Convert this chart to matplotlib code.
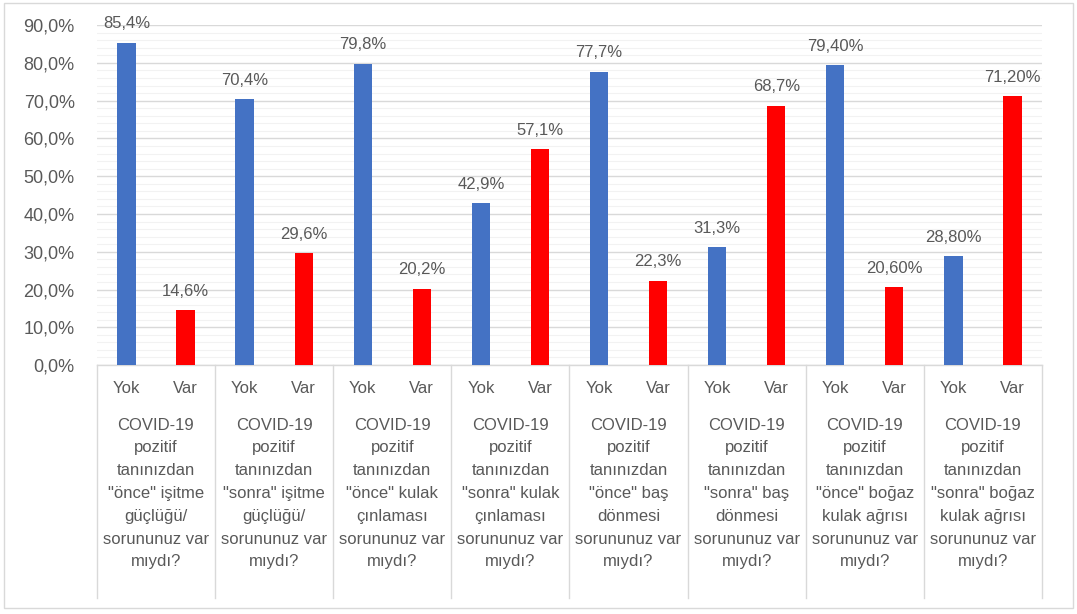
import matplotlib.pyplot as plt
from matplotlib.patches import Rectangle
from matplotlib.ticker import MultipleLocator, FuncFormatter

plt.rcParams['font.family'] = ['Liberation Sans', 'DejaVu Sans']

answers = ['Yok', 'Var']
yok = [85.4, 70.4, 79.8, 42.9, 77.7, 31.3, 79.4, 28.8]
var = [14.6, 29.6, 20.2, 57.1, 22.3, 68.7, 20.6, 71.2]
decimals = [1, 1, 1, 1, 1, 1, 2, 2]
questions = [
    'COVID-19\npozitif\ntanınızdan\n"önce" işitme\ngüçlüğü/\nsorununuz var\nmıydı?',
    'COVID-19\npozitif\ntanınızdan\n"sonra" işitme\ngüçlüğü/\nsorununuz var\nmıydı?',
    'COVID-19\npozitif\ntanınızdan\n"önce" kulak\nçınlaması\nsorununuz var\nmıydı?',
    'COVID-19\npozitif\ntanınızdan\n"sonra" kulak\nçınlaması\nsorununuz var\nmıydı?',
    'COVID-19\npozitif\ntanınızdan\n"önce" baş\ndönmesi\nsorununuz var\nmıydı?',
    'COVID-19\npozitif\ntanınızdan\n"sonra" baş\ndönmesi\nsorununuz var\nmıydı?',
    'COVID-19\npozitif\ntanınızdan\n"önce" boğaz\nkulak ağrısı\nsorununuz var\nmıydı?',
    'COVID-19\npozitif\ntanınızdan\n"sonra" boğaz\nkulak ağrısı\nsorununuz var\nmıydı?',
]

blue = '#4472C4'
red = '#FF0000'
grey_text = '#595959'
line_col = '#D9D9D9'

fig = plt.figure(figsize=(10.77, 6.14), dpi=100)
fig.patches.append(Rectangle((0.004, 0.01), 0.992, 0.985, transform=fig.transFigure,
                             fill=False, edgecolor='#D9D9D9', linewidth=1))
ax = fig.add_axes([0.090, 0.4055, 0.8775, 0.5535])

n = len(questions)
for i in range(n):
    xs = [2 * i, 2 * i + 1]
    vals = [yok[i], var[i]]
    cols = [blue, red]
    for x, v, c in zip(xs, vals, cols):
        ax.bar(x, v, width=0.31, color=c, zorder=3)
        lbl = f'{v:.{decimals[i]}f}%'.replace('.', ',')
        ax.text(x, v + 3.0, lbl, ha='center', va='bottom', fontsize=12,
                color=grey_text, zorder=4)

ax.set_xlim(-0.5, 2 * n - 0.5)
ax.set_ylim(0, 90)
ax.yaxis.set_major_locator(MultipleLocator(10))
ax.yaxis.set_minor_locator(MultipleLocator(2))
ax.yaxis.set_major_formatter(FuncFormatter(lambda v, p: f'{v:.1f}%'.replace('.', ',')))
ax.grid(axis='y', which='major', color=line_col, linewidth=1, zorder=0)
ax.grid(axis='y', which='minor', color='#F2F2F2', linewidth=0.8, zorder=0)
ax.tick_params(axis='y', which='both', length=0, labelsize=13, labelcolor=grey_text, pad=16)
ax.tick_params(axis='x', length=0, labelbottom=False)
for s in ax.spines.values():
    s.set_visible(False)

# category table under the bars
trans = ax.get_xaxis_transform()
ax.plot([-0.5, 2 * n - 0.5], [0, 0], color=line_col, lw=1, transform=trans, clip_on=False)
for k in range(n + 1):
    ax.plot([2 * k - 0.5, 2 * k - 0.5], [0, -0.685], color=line_col, lw=1,
            transform=trans, clip_on=False)
for i in range(n):
    for j, a in enumerate(answers):
        ax.text(2 * i + j, -0.068, a, ha='center', va='center', fontsize=12,
                color=grey_text, transform=trans)
    ax.text(2 * i + 0.5, -0.155, questions[i], ha='center', va='top', fontsize=12,
            color=grey_text, transform=trans, linespacing=1.65)

fig.savefig('out.png', dpi=100)
